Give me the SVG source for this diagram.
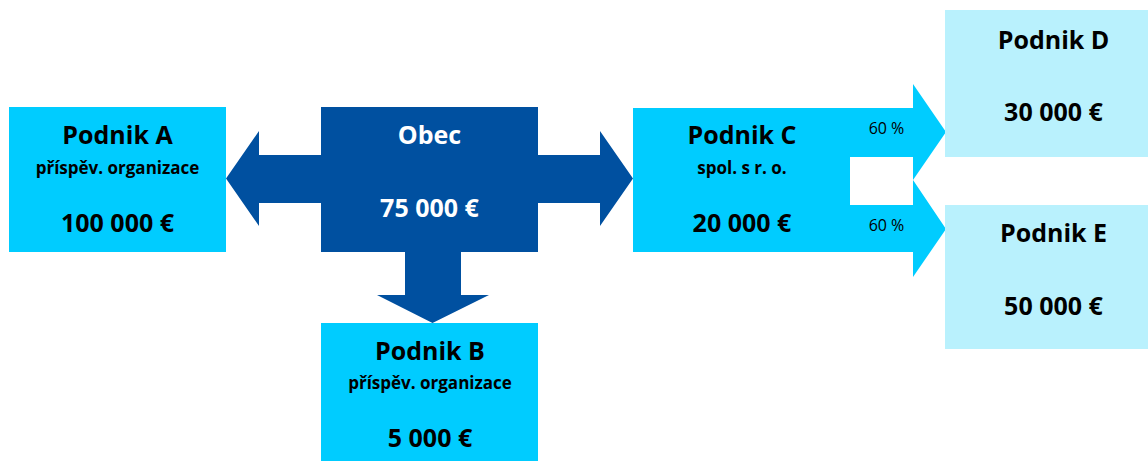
<svg xmlns="http://www.w3.org/2000/svg" width="1148" height="461" viewBox="0 0 1148 461">
<style>
.cyan{fill:#00CCFF}
.dark{fill:#0050A0}
.light{fill:#B9F1FD}
text{font-family:"Open Sans","Noto Sans","Liberation Sans",sans-serif;font-weight:bold;text-anchor:middle;fill:#000}
.big{font-size:25px}
.sub{font-size:17px}
.w{fill:#FFFFFF}
.pct{font-size:16px;font-weight:normal}
</style>
<rect width="1148" height="461" fill="#FFFFFF"/>
<g id="connectors">
<polygon class="dark" points="321,155 259,155 259,131 226,178.5 259,226 259,203 321,203"/>
<polygon class="dark" points="538,155 600,155 600,131 633,178.5 600,226 600,203 538,203"/>
<polygon class="dark" points="405,251 405,295 377,295 432.5,323 489,295 461,295 461,251"/>
<polygon class="cyan" points="849,108 913,108 913,84 946,132 913,180 913,157 849,157"/>
<polygon class="cyan" points="849,205 913,205 913,180 946,229 913,277 913,252 849,252"/>
<text class="pct" x="886.5" y="134">60 %</text>
<text class="pct" x="886.5" y="231">60 %</text>
</g>
<g id="podnikA">
<rect class="cyan" x="9" y="107" width="217" height="145"/>
<text class="big" x="117.5" y="144">Podnik A</text>
<text class="sub" x="117.5" y="174">příspěv. organizace</text>
<text class="big" x="117.5" y="232">100 000 €</text>
</g>
<g id="obec">
<rect class="dark" x="321" y="107" width="217" height="145"/>
<text class="big w" x="429.5" y="144">Obec</text>
<text class="big w" x="429.5" y="217">75 000 €</text>
</g>
<g id="podnikB">
<rect class="cyan" x="321" y="323" width="217" height="138"/>
<text class="big" x="430" y="360">Podnik B</text>
<text class="sub" x="430" y="389">příspěv. organizace</text>
<text class="big" x="430" y="447">5 000 €</text>
</g>
<g id="podnikC">
<rect class="cyan" x="633" y="108" width="217" height="144"/>
<text class="big" x="742" y="144">Podnik C</text>
<text class="sub" x="742" y="174">spol. s r. o.</text>
<text class="big" x="742" y="232">20 000 €</text>
</g>
<g id="podnikD">
<rect class="light" x="945" y="10" width="203" height="147"/>
<text class="big" x="1053.5" y="49">Podnik D</text>
<text class="big" x="1053.5" y="121">30 000 €</text>
</g>
<g id="podnikE">
<rect class="light" x="945" y="205" width="203" height="144"/>
<text class="big" x="1053.5" y="242">Podnik E</text>
<text class="big" x="1053.5" y="315">50 000 €</text>
</g>
</svg>
